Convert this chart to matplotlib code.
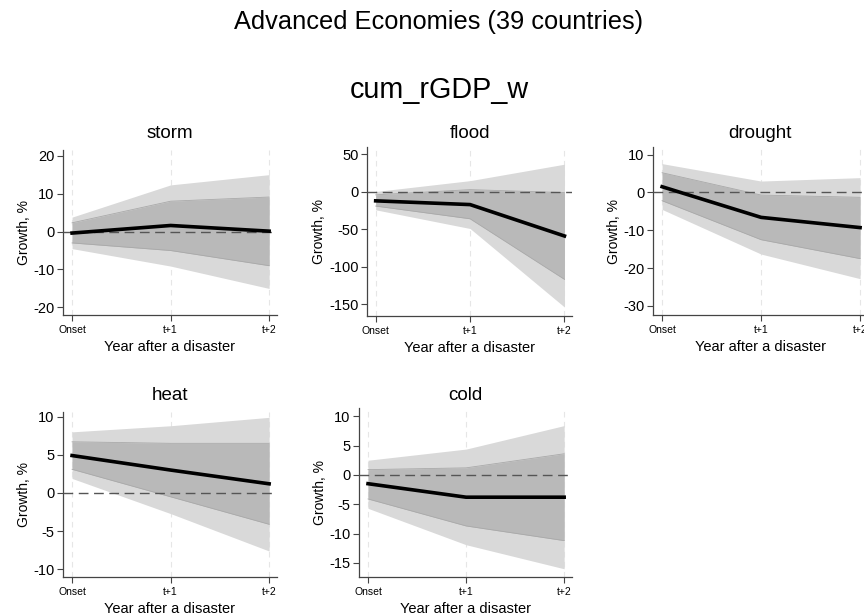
import matplotlib
matplotlib.use("Agg")
import matplotlib.pyplot as plt
import numpy as np

plt.rcParams['font.family'] = ['Liberation Sans', 'DejaVu Sans']
plt.rcParams['axes.unicode_minus'] = False

horizon = [0, 1, 2]
horizon_labels = ["Onset", "t+1", "t+2"]

disasters = ["storm", "flood", "drought", "heat", "cold"]

# point estimates
storm_est = [-0.4, 1.6, 0.1]
flood_est = [-12, -17, -59]
drought_est = [1.5, -6.6, -9.3]
heat_est = [4.9, 3.0, 1.2]
cold_est = [-1.5, -3.8, -3.8]

# inner confidence band (lower, upper)
storm_lo68 = [-3.0, -5.0, -9.0]
storm_hi68 = [2.3, 8.0, 9.1]
flood_lo68 = [-19, -36, -117]
flood_hi68 = [-4, 3, -1]
drought_lo68 = [-2.2, -12.5, -17.5]
drought_hi68 = [5.2, -0.7, -1.3]
heat_lo68 = [3.1, -0.5, -4.1]
heat_hi68 = [6.7, 6.5, 6.5]
cold_lo68 = [-4.1, -8.7, -11.2]
cold_hi68 = [0.9, 1.2, 3.6]

# outer confidence band (lower, upper)
storm_lo90 = [-4.5, -9.1, -15.0]
storm_hi90 = [3.8, 12.3, 15.0]
flood_lo90 = [-24, -49, -154]
flood_hi90 = [0.5, 15, 37]
drought_lo90 = [-4.5, -16.3, -22.8]
drought_hi90 = [7.6, 3.0, 3.9]
heat_lo90 = [1.9, -2.7, -7.6]
heat_hi90 = [8.0, 8.8, 9.9]
cold_lo90 = [-5.7, -11.9, -16.0]
cold_hi90 = [2.5, 4.4, 8.4]

y_ticks = {
    "storm": [-20, -10, 0, 10, 20],
    "flood": [-150, -100, -50, 0, 50],
    "drought": [-30, -20, -10, 0, 10],
    "heat": [-10, -5, 0, 5, 10],
    "cold": [-15, -10, -5, 0, 5, 10],
}

series = {
    "storm": (storm_est, storm_lo68, storm_hi68, storm_lo90, storm_hi90),
    "flood": (flood_est, flood_lo68, flood_hi68, flood_lo90, flood_hi90),
    "drought": (drought_est, drought_lo68, drought_hi68, drought_lo90, drought_hi90),
    "heat": (heat_est, heat_lo68, heat_hi68, heat_lo90, heat_hi90),
    "cold": (cold_est, cold_lo68, cold_hi68, cold_lo90, cold_hi90),
}

W, H = 864, 616
fig = plt.figure(figsize=(W / 100, H / 100), dpi=100)

# panel placement in pixels: left, top, right, bottom, title y
boxes = {
    "storm": (63, 150, 277, 315, 133),
    "flood": (367, 147, 572, 316, 133),
    "drought": (653, 147, 868, 315, 133),
    "heat": (63, 412, 277, 577, 395),
    "cold": (359, 408, 572, 577, 395),
}
ylims = {
    "storm": (-22, 21.5),
    "flood": (-166, 60),
    "drought": (-32.4, 12),
    "heat": (-11, 10.6),
    "cold": (-17.4, 11.4),
}

for name in disasters:
    l, t, r, b, ty = boxes[name]
    ax = fig.add_axes([l / W, 1 - b / H, (r - l) / W, (b - t) / H])
    est, lo68, hi68, lo90, hi90 = series[name]
    ax.fill_between(horizon, lo90, hi90, color="#d9d9d9", lw=0, zorder=1)
    ax.fill_between(horizon, lo68, hi68, color="#b9b9b9", lw=0, zorder=2)
    ax.plot(horizon, lo68, color="#a9a9a9", lw=0.6, zorder=2)
    ax.plot(horizon, hi68, color="#a9a9a9", lw=0.6, zorder=2)
    for x in horizon:
        ax.axvline(x, color="#e6e6e6", lw=0.8, ls=(0, (5, 4)), zorder=0)
    ax.axhline(0, color="#555555", lw=1.0, ls=(0, (7, 4)), zorder=3)
    ax.plot(horizon, est, color="black", lw=2.6, zorder=4)

    ax.set_xlim(-0.092, 2.08)
    ax.set_ylim(*ylims[name])
    ax.set_xticks(horizon)
    ax.set_xticklabels(horizon_labels, fontsize=7.5)
    ax.set_yticks(y_ticks[name])
    ax.tick_params(axis="y", labelsize=10.5, length=4, color="#444444", pad=2)
    ax.tick_params(axis="x", length=4, color="#444444", pad=3)
    for s in ("top", "right"):
        ax.spines[s].set_visible(False)
    for s in ("left", "bottom"):
        ax.spines[s].set_color("#444444")
        ax.spines[s].set_linewidth(0.9)
    cx = (l + r) / 2 if name != "drought" else (l + 277 - 63 + l) / 2
    fig.text(cx / W, 1 - ty / H, name, ha="center", va="center", fontsize=13.5)
    ax.set_xlabel("Year after a disaster", fontsize=10.5, labelpad=4)
    ax.set_ylabel("Growth, %", fontsize=10, labelpad=2)

fig.text(439 / W, 1 - 22 / H, "Advanced Economies (39 countries)", ha="center", va="center", fontsize=18.3)
fig.text(439 / W, 1 - 90 / H, "cum_rGDP_w", ha="center", va="center", fontsize=20.7)

fig.savefig("out.png", dpi=100)
